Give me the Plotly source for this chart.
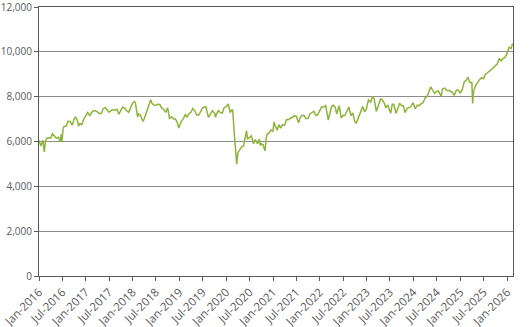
import plotly.graph_objects as go

dates = [
 "2016-01-01","2016-01-15","2016-01-22","2016-02-01","2016-02-11","2016-02-19","2016-03-01","2016-03-15",
 "2016-04-01","2016-04-15","2016-05-01","2016-05-15","2016-06-01","2016-06-15","2016-06-23","2016-06-27",
 "2016-07-08","2016-07-15","2016-08-01","2016-08-15","2016-09-01","2016-09-15","2016-10-01","2016-10-11",
 "2016-10-25","2016-11-04","2016-11-15","2016-12-01","2016-12-15","2016-12-30",
 "2017-01-15","2017-02-01","2017-02-15","2017-03-01","2017-03-15","2017-04-01","2017-04-15","2017-05-01",
 "2017-05-15","2017-06-01","2017-06-15","2017-07-01","2017-07-15","2017-08-01","2017-08-15","2017-09-01",
 "2017-09-15","2017-10-01","2017-10-15","2017-11-01","2017-11-15","2017-12-01","2017-12-15","2017-12-29",
 "2018-01-12","2018-01-22","2018-02-09","2018-02-15","2018-03-01","2018-03-23","2018-04-02","2018-04-15",
 "2018-05-01","2018-05-22","2018-06-01","2018-06-15","2018-07-01","2018-07-15","2018-08-01","2018-08-15",
 "2018-09-01","2018-09-15","2018-10-01","2018-10-15","2018-11-01","2018-11-15","2018-12-01","2018-12-15",
 "2018-12-27",
 "2019-01-15","2019-02-01","2019-02-15","2019-03-01","2019-03-15","2019-04-01","2019-04-15","2019-05-01",
 "2019-05-15","2019-06-01","2019-06-15","2019-07-01","2019-07-15","2019-07-26","2019-08-15","2019-09-01",
 "2019-09-15","2019-10-01","2019-10-10","2019-10-15","2019-11-01","2019-11-15","2019-12-01","2019-12-15",
 "2019-12-31",
 "2020-01-17","2020-02-01","2020-02-15","2020-02-21","2020-03-01","2020-03-09","2020-03-16","2020-03-23",
 "2020-04-01","2020-04-15","2020-05-01","2020-05-15","2020-06-01","2020-06-08","2020-06-15","2020-07-01",
 "2020-07-15","2020-08-01","2020-08-15","2020-09-01","2020-09-15","2020-09-24","2020-10-01","2020-10-15",
 "2020-10-30","2020-11-09","2020-11-15","2020-12-01","2020-12-15","2020-12-31",
 "2021-01-08","2021-01-15","2021-02-01","2021-02-15","2021-03-01","2021-03-15","2021-04-01","2021-04-15",
 "2021-05-01","2021-05-15","2021-06-01","2021-06-15","2021-07-01","2021-07-19","2021-08-01","2021-08-15",
 "2021-09-01","2021-09-15","2021-10-01","2021-10-15","2021-11-01","2021-11-15","2021-12-01","2021-12-15",
 "2021-12-31",
 "2022-01-15","2022-02-01","2022-02-15","2022-03-07","2022-03-15","2022-04-01","2022-04-15","2022-05-01",
 "2022-05-12","2022-06-01","2022-06-16","2022-07-01","2022-07-15","2022-08-01","2022-08-15","2022-09-01",
 "2022-09-15","2022-09-30","2022-10-12","2022-10-25","2022-11-15","2022-12-01","2022-12-15","2022-12-30",
 "2023-01-15","2023-02-01","2023-02-16","2023-03-01","2023-03-17","2023-04-01","2023-04-20","2023-05-01",
 "2023-05-15","2023-06-01","2023-06-15","2023-07-07","2023-07-20","2023-08-01","2023-08-18","2023-09-01",
 "2023-09-15","2023-10-01","2023-10-15","2023-10-27","2023-11-15","2023-12-01","2023-12-15","2023-12-29",
 "2024-01-15","2024-02-01","2024-02-15","2024-03-01","2024-03-15","2024-04-02","2024-04-15","2024-04-26",
 "2024-05-15","2024-06-01","2024-06-15","2024-07-01","2024-07-15","2024-08-05","2024-08-15","2024-09-01",
 "2024-09-15","2024-10-01","2024-10-15","2024-11-01","2024-11-15","2024-12-01","2024-12-15","2024-12-31",
 "2025-01-15","2025-01-24","2025-02-01","2025-02-15","2025-03-03","2025-03-15","2025-04-01","2025-04-07",
 "2025-04-15","2025-05-01","2025-05-15","2025-06-01","2025-06-15","2025-07-01","2025-07-15","2025-08-01",
 "2025-08-15","2025-09-01","2025-09-15","2025-10-01","2025-10-15","2025-11-01","2025-11-15","2025-12-01",
 "2025-12-15","2025-12-31",
 "2026-01-15","2026-02-01","2026-02-13",
]

values = [
 6060,5800,5900,6050,5540,5950,6150,6170,
 6150,6340,6240,6150,6190,5990,6330,5980,
 6590,6670,6690,6900,6890,6730,6990,7100,
 6960,6690,6800,6750,7000,7140,
 7300,7140,7300,7380,7370,7320,7250,7250,
 7450,7520,7420,7310,7380,7420,7390,7440,
 7220,7380,7530,7490,7370,7300,7480,7690,
 7780,7730,7090,7230,7180,6890,7030,7260,
 7520,7860,7700,7630,7620,7660,7650,7500,
 7430,7300,7500,7030,7100,7000,7000,6850,
 6600,
 6900,7020,7200,7100,7230,7300,7470,7380,
 7180,7180,7360,7500,7530,7550,7080,7230,
 7370,7280,7080,7200,7370,7300,7260,7500,
 7550,
 7680,7290,7420,7400,6580,5960,5150,4990,
 5500,5600,5760,5800,6200,6480,6100,6200,
 6250,5900,6090,5900,6100,5820,5900,5850,
 5580,6180,6320,6380,6510,6460,
 6870,6740,6500,6750,6600,6750,6740,6980,
 6970,7040,7080,7150,7120,6840,7080,7170,
 7150,7020,7030,7230,7290,7350,7160,7200,
 7380,
 7540,7540,7600,6960,7200,7540,7620,7520,
 7230,7600,7050,7170,7160,7410,7540,7150,
 7280,6890,6830,7010,7370,7560,7330,7450,
 7850,7760,8010,7900,7340,7630,7900,7870,
 7750,7500,7630,7260,7660,7660,7260,7460,
 7710,7600,7600,7290,7490,7520,7580,7730,
 7460,7620,7600,7690,7720,7950,8000,8140,
 8440,8270,8150,8240,8250,8010,8350,8380,
 8270,8270,8250,8180,8060,8290,8300,8170,
 8300,8500,8670,8730,8870,8630,8630,7700,
 8250,8500,8630,8770,8850,8800,8990,9070,
 9140,9200,9280,9390,9450,9700,9600,9700,
 9750,9920,
 10200,10150,10370,
]

y_ticks = [0, 2000, 4000, 6000, 8000, 10000, 12000]

line_color = "#8DB43A"
axis_color = "#595959"
grid_color = "#8C8C8C"
text_color = "#595959"

fig = go.Figure()
fig.add_trace(go.Scatter(x=dates, y=values, mode="lines",
                         line=dict(color=line_color, width=1.5),
                         hoverinfo="skip", showlegend=False))

fig.update_layout(
    width=529, height=327,
    margin=dict(l=39, r=16, t=7, b=51, autoexpand=False),
    paper_bgcolor="white", plot_bgcolor="white",
    font=dict(family="Open Sans", size=10, color=text_color),
    showlegend=False,
)
fig.update_xaxes(
    type="date",
    range=["2016-01-01", "2026-02-16"],
    tick0="2016-01-01", dtick="M6", tickformat="%b-%Y",
    tickangle=-45,
    ticks="outside", ticklen=4, tickcolor=axis_color,
    showline=True, linecolor=axis_color, linewidth=1, mirror=True,
    showgrid=False, zeroline=False, automargin=False,
    ticklabeloverflow="allow",
    tickfont=dict(size=11.5, color=text_color),
)
fig.update_yaxes(
    range=[0, 12000], tickvals=y_ticks, tickformat=",",
    ticks="outside", ticklen=4, tickcolor=axis_color,
    showline=True, linecolor=axis_color, linewidth=1, mirror=True,
    showgrid=True, gridcolor=grid_color, gridwidth=1,
    zeroline=False, automargin=False,
    ticklabeloverflow="allow",
    tickfont=dict(size=10, color=text_color),
)

fig.write_html("out.html")
